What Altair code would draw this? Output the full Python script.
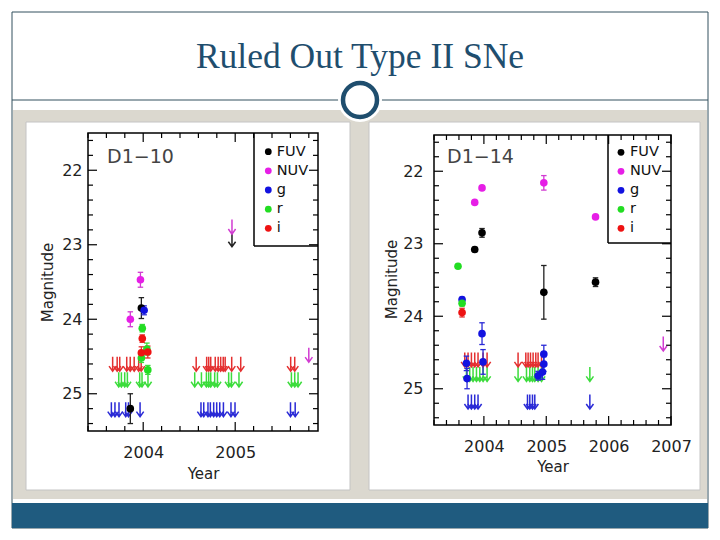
import altair as alt
import pandas as pd

# ---------------- data ----------------
BANDS = ["FUV", "NUV", "g", "r", "i"]
POINT_COLORS = ["#000000", "#e61ee6", "#1212e0", "#22dd22", "#ee1212"]
ARROW_COLORS = ["#222222", "#d23cd2", "#2a2ad6", "#3cdc3c", "#e43030"]

# D1-10 detections: (time, magnitude, error)
a_fuv_t = [2003.86, 2003.98]
a_fuv_m = [25.20, 23.85]
a_fuv_e = [0.20, 0.14]
a_nuv_t = [2003.86, 2003.97]
a_nuv_m = [24.00, 23.47]
a_nuv_e = [0.10, 0.10]
a_g_t = [2004.01]
a_g_m = [23.88]
a_g_e = [0.06]
a_r_t = [2003.99, 2003.98, 2004.04, 2004.05]
a_r_m = [24.12, 24.52, 24.40, 24.68]
a_r_e = [0.05, 0.06, 0.08, 0.06]
a_i_t = [2003.99, 2003.98, 2004.05]
a_i_m = [24.26, 24.45, 24.44]
a_i_e = [0.05, 0.08, 0.08]

# D1-10 upper limits
a_lim_fuv_t = [2004.965]
a_lim_fuv_m = [22.93]
a_lim_nuv_t = [2004.965, 2005.80]
a_lim_nuv_m = [22.76, 24.48]
a_lim_g_t = [2003.654, 2003.693, 2003.737, 2003.810, 2003.840, 2003.966,
             2004.628, 2004.658, 2004.704, 2004.730, 2004.766, 2004.799,
             2004.832, 2004.872, 2004.954, 2004.998, 2005.601, 2005.652]
a_lim_g_m = 25.21
a_lim_r_t = [2003.734, 2003.763, 2003.799, 2003.828, 2003.962, 2003.987,
             2004.052, 2004.560, 2004.633, 2004.687, 2004.712, 2004.734,
             2004.777, 2004.807, 2004.929, 2004.959, 2005.041, 2005.611,
             2005.647, 2005.683]
a_lim_r_m = 24.81
a_lim_i_t = [2003.668, 2003.717, 2003.745, 2003.821, 2003.859, 2003.902,
             2003.951, 2003.978, 2004.576, 2004.690, 2004.712, 2004.734,
             2004.783, 2004.815, 2004.842, 2004.870, 2004.891, 2004.962,
             2005.060, 2005.603, 2005.647]
a_lim_i_m = 24.60

# D1-14 detections
b_fuv_t = [2003.853, 2003.970, 2004.961, 2005.790]
b_fuv_m = [23.08, 22.85, 23.67, 23.53]
b_fuv_e = [0.03, 0.06, 0.37, 0.06]
b_nuv_t = [2003.853, 2003.970, 2004.961, 2005.790]
b_nuv_m = [22.43, 22.23, 22.16, 22.63]
b_nuv_e = [0.02, 0.02, 0.10, 0.02]
b_g_t = [2003.65, 2003.72, 2003.73, 2003.97, 2003.986, 2004.869, 2004.961, 2004.961, 2004.94]
b_g_m = [23.77, 24.65, 24.86, 24.24, 24.63, 24.82, 24.52, 24.66, 24.77]
b_g_e = [0.03, 0.10, 0.14, 0.15, 0.17, 0.06, 0.12, 0.10, 0.10]
b_r_t = [2003.585, 2003.65]
b_r_m = [23.31, 23.82]
b_r_e = [0.02, 0.04]
b_i_t = [2003.65]
b_i_m = [23.95]
b_i_e = [0.06]

# D1-14 upper limits
b_lim_nuv_t = [2006.876]
b_lim_nuv_m = [24.38]
b_lim_g_t = [2003.746, 2003.800, 2003.853, 2003.906, 2004.699, 2004.736,
             2004.779, 2004.816, 2005.699]
b_lim_g_m = 25.18
b_lim_r_t = [2003.720, 2003.773, 2003.826, 2003.881, 2003.934, 2003.987,
             2004.051, 2004.548, 2004.683, 2004.736, 2004.779, 2004.816,
             2004.869, 2004.924, 2005.699]
b_lim_r_m = 24.80
b_lim_i_t = [2003.693, 2003.746, 2003.800, 2003.853, 2003.906, 2003.987,
             2004.051, 2004.548, 2004.672, 2004.709, 2004.747, 2004.789,
             2004.832, 2004.869, 2004.924]
b_lim_i_m = 24.60

# axis ticks
a_x_major = [2004, 2005]
a_x_minor = [2003.4, 2003.6, 2003.8, 2004.2, 2004.4, 2004.6, 2004.8,
             2005.2, 2005.4, 2005.6, 2005.8]
b_x_major = [2004, 2005, 2006, 2007]
b_x_minor = [2003.2, 2003.4, 2003.6, 2003.8, 2004.2, 2004.4, 2004.6, 2004.8,
             2005.2, 2005.4, 2005.6, 2005.8, 2006.2, 2006.4, 2006.6, 2006.8]
y_major = [22, 23, 24, 25]
y_minor = [21.6, 21.8, 22.2, 22.4, 22.6, 22.8, 23.2, 23.4, 23.6, 23.8,
           24.2, 24.4, 24.6, 24.8, 25.2, 25.4]

TITLE = "Ruled Out Type II SNe"

# ---------------- helpers ----------------
FONT = "DejaVu Sans"
ONE = pd.DataFrame({"k": [0]})
ARROW = "M0,-1L0,1M-0.5,0.3L0,1L0.5,0.3"
CAP = "M-1,0L1,0"


def det_frame(rows):
    recs = []
    for band, ts, ms, es in rows:
        for t, m, e in zip(ts, ms, es):
            recs.append({"sb": band, "t": t, "m": m, "lo": m - e, "hi": m + e})
    return pd.DataFrame(recs)


def lim_frame(rows):
    recs = []
    for band, ts, ms in rows:
        if not isinstance(ms, list):
            ms = [ms] * len(ts)
        for t, m in zip(ts, ms):
            recs.append({"sb": band, "t": t, "m": m})
    return pd.DataFrame(recs)


def rect(x1, y1, x2, y2, ox, oy, **kw):
    return alt.Chart(ONE).mark_rect(**kw).encode(
        x=alt.value(x1 - ox), x2=alt.value(x2 - ox),
        y=alt.value(y1 - oy), y2=alt.value(y2 - oy))


def panel(det, lim, xdom, ydom, W, H, top, xmaj, xmin, label, label_xy,
          leg, legbox, ylabpad, ytitlepad, xtitlepad):
    xs = alt.Scale(domain=xdom, nice=False, zero=False)
    ys = alt.Scale(domain=ydom, nice=False, zero=False, reverse=True)
    xaxis = alt.Axis(values=xmaj, format="d", ticks=False, domain=False, grid=False,
                     labelFont=FONT, labelFontSize=16, labelColor="#222",
                     labelPadding=13, labelFlush=False, labelOverlap=False,
                     title="Year", titleFont=FONT, titleFontSize=15,
                     titleFontWeight="normal", titleColor="#222",
                     titlePadding=xtitlepad, zindex=1)
    yaxis = alt.Axis(values=y_major, format="d", ticks=False, domain=False, grid=False,
                     labelFont=FONT, labelFontSize=16, labelColor="#222",
                     labelPadding=ylabpad, labelFlush=False, labelOverlap=False,
                     title="Magnitude", titleFont=FONT, titleFontSize=15,
                     titleFontWeight="normal", titleColor="#222",
                     titlePadding=ytitlepad, zindex=1)

    def X(f):
        return alt.X(f, type="quantitative", scale=xs, axis=xaxis)

    def Y(f):
        return alt.Y(f, type="quantitative", scale=ys, axis=yaxis)

    layers = []
    # ticks
    for vals, L in ((xmin, 5), (xmaj, 9)):
        d = pd.DataFrame({"t": vals})
        layers.append(alt.Chart(d).mark_rule(color="black", strokeWidth=1.2).encode(
            x=X("t"), y=alt.value(H), y2=alt.value(H - L)))
        layers.append(alt.Chart(d).mark_rule(color="black", strokeWidth=1.2).encode(
            x=X("t"), y=alt.value(top), y2=alt.value(top + L)))
    for vals, L in ((y_minor, 5), (y_major, 9)):
        d = pd.DataFrame({"m": vals})
        layers.append(alt.Chart(d).mark_rule(color="black", strokeWidth=1.2).encode(
            y=Y("m"), x=alt.value(0), x2=alt.value(L)))
        layers.append(alt.Chart(d).mark_rule(color="black", strokeWidth=1.2).encode(
            y=Y("m"), x=alt.value(W), x2=alt.value(W - L)))

    # legend box (left and bottom edges)
    bx, by = legbox
    layers.append(alt.Chart(ONE).mark_rule(color="black", strokeWidth=1.5).encode(
        x=alt.value(bx), y=alt.value(top), y2=alt.value(by)))
    layers.append(alt.Chart(ONE).mark_rule(color="black", strokeWidth=1.5).encode(
        x=alt.value(bx), x2=alt.value(W), y=alt.value(by)))
    # legend entries
    sx, lx, y0, dy = leg
    for k, (band, col) in enumerate(zip(BANDS, POINT_COLORS)):
        layers.append(alt.Chart(ONE).mark_circle(size=46, color=col, opacity=1).encode(
            x=alt.value(sx), y=alt.value(y0 + k * dy)))
        layers.append(alt.Chart(ONE).mark_text(text=band, font=FONT, fontSize=14.5, color="#111",
                                               align="left", baseline="middle").encode(
            x=alt.value(lx), y=alt.value(y0 + k * dy)))

    stroke_arrow = alt.Stroke("sb:N", scale=alt.Scale(domain=BANDS, range=ARROW_COLORS), legend=None)
    stroke_pt = alt.Stroke("sb:N", scale=alt.Scale(domain=BANDS, range=POINT_COLORS), legend=None)
    fill_pt = alt.Fill("sb:N", scale=alt.Scale(domain=BANDS, range=POINT_COLORS), legend=None)

    # upper limits (arrows)
    layers.append(alt.Chart(lim).mark_point(shape=ARROW, size=210, filled=False,
                                            strokeWidth=1.5, opacity=1).encode(
        x=X("t"), y=Y("m"), stroke=stroke_arrow))
    # error bars
    layers.append(alt.Chart(det).mark_rule(strokeWidth=1.3, opacity=1).encode(
        x=X("t"), y=Y("lo"), y2="hi", stroke=stroke_pt))
    for f in ("lo", "hi"):
        layers.append(alt.Chart(det).mark_point(shape=CAP, size=30, filled=False,
                                                strokeWidth=1.3, opacity=1).encode(
            x=X("t"), y=Y(f), stroke=stroke_pt))
    # detections
    layers.append(alt.Chart(det).mark_circle(size=58, opacity=1).encode(
        x=X("t"), y=Y("m"), fill=fill_pt))
    # frame
    layers.append(alt.Chart(ONE).mark_rect(fill=None, stroke="black", strokeWidth=1.5).encode(
        x=alt.value(0), x2=alt.value(W), y=alt.value(top), y2=alt.value(H)))
    # object label
    layers.append(alt.Chart(ONE).mark_text(text=label, font=FONT, fontSize=19, color="#444",
                                           align="left", baseline="middle").encode(
        x=alt.value(label_xy[0]), y=alt.value(label_xy[1])))
    return layers


# ---------------- left panel (D1-10) ----------------
OX, OY = 88, 133  # page position of left plot area
det_a = det_frame([("FUV", a_fuv_t, a_fuv_m, a_fuv_e), ("NUV", a_nuv_t, a_nuv_m, a_nuv_e),
                   ("g", a_g_t, a_g_m, a_g_e), ("r", a_r_t, a_r_m, a_r_e),
                   ("i", a_i_t, a_i_m, a_i_e)])
lim_a = lim_frame([("FUV", a_lim_fuv_t, a_lim_fuv_m), ("NUV", a_lim_nuv_t, a_lim_nuv_m),
                   ("g", a_lim_g_t, a_lim_g_m), ("r", a_lim_r_t, a_lim_r_m),
                   ("i", a_lim_i_t, a_lim_i_m)])

slide = [
    rect(8, 8, 712, 532, OX, OY, color="white"),
    rect(13, 110, 707, 499, OX, OY, color="#dbd8cf"),
    rect(12, 12, 708, 528, OX, OY, fill=None, stroke="#33505f", strokeWidth=1),
    alt.Chart(ONE).mark_rule(color="#33505f", strokeWidth=1).encode(
        x=alt.value(12 - OX), x2=alt.value(708 - OX), y=alt.value(100 - OY)),
    alt.Chart(ONE).mark_point(shape="circle", size=1936, filled=True, color="white", opacity=1).encode(
        x=alt.value(360 - OX), y=alt.value(100 - OY)),
    alt.Chart(ONE).mark_point(shape="circle", size=1156, filled=False, color="#1f4e6e",
                              strokeWidth=4.5, opacity=1).encode(
        x=alt.value(360 - OX), y=alt.value(100 - OY)),
    alt.Chart(ONE).mark_text(text=TITLE, font="Liberation Serif", fontSize=35.5, color="#1f4e6e",
                             align="center", baseline="middle").encode(
        x=alt.value(360 - OX), y=alt.value(57 - OY)),
    rect(12, 503, 708, 528, OX, OY, color="#1f5b7f"),
    rect(26, 122, 350, 490, OX, OY, fill="white", stroke="#c4c4c4", strokeWidth=1),
]

left_layers = slide + panel(det_a, lim_a, [2003.4, 2005.9], [21.5, 25.5], 230, 298, 0,
                            a_x_major, a_x_minor, "D1\u221210", (19, 24),
                            (180.3, 188.7, 18.7, 19.15), (166, 113), 6, 6, 6)
left = alt.layer(*left_layers).properties(width=230, height=298)

# ---------------- right panel (D1-14) ----------------
RX = 434
det_b = det_frame([("FUV", b_fuv_t, b_fuv_m, b_fuv_e), ("NUV", b_nuv_t, b_nuv_m, b_nuv_e),
                   ("g", b_g_t, b_g_m, b_g_e), ("r", b_r_t, b_r_m, b_r_e),
                   ("i", b_i_t, b_i_m, b_i_e)])
lim_b = lim_frame([("NUV", b_lim_nuv_t, b_lim_nuv_m), ("g", b_lim_g_t, b_lim_g_m),
                   ("r", b_lim_r_t, b_lim_r_m), ("i", b_lim_i_t, b_lim_i_m)])

right_layers = [rect(369, 122, 700, 490, RX, OY, fill="white", stroke="#c4c4c4", strokeWidth=1)] + \
    panel(det_b, lim_b, [2003.2, 2007.0], [21.4725, 25.5], 237, 292, 2,
          b_x_major, b_x_minor, "D1\u221214", (13, 24),
          (187, 196, 19.3, 19.0), (174, 110), 11, 3, 5)
right = alt.layer(*right_layers).properties(width=237, height=292)

chart = alt.hconcat(left, right, spacing=116, bounds="flush", padding=0).configure_view(
    stroke=None).properties(background="white")

chart.save("out.html", embed_options={"renderer": "svg", "actions": False})
